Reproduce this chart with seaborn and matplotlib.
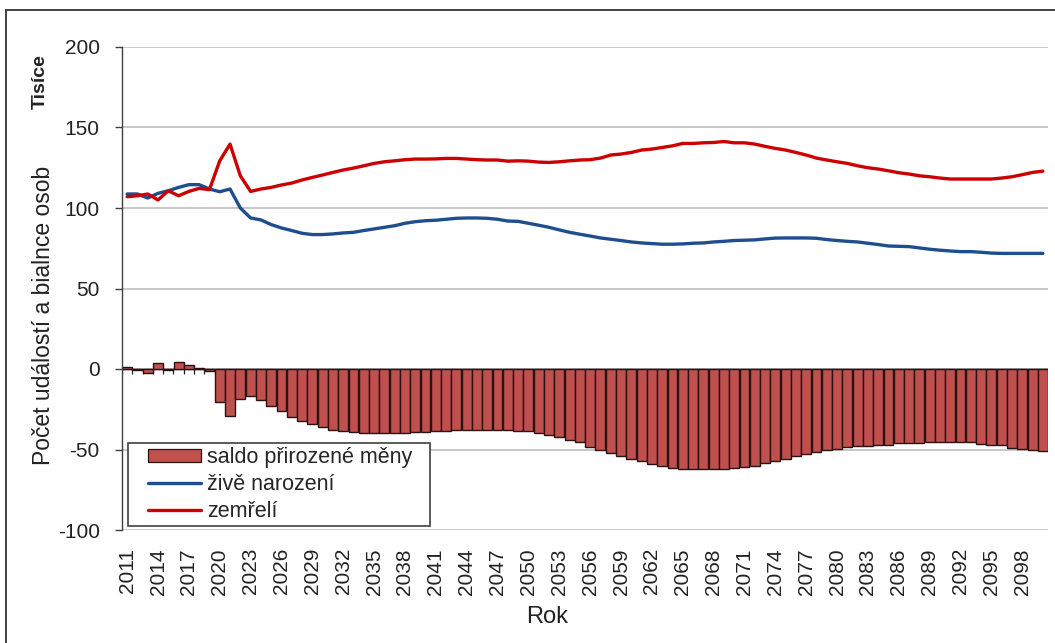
import numpy as np
import pandas as pd
import matplotlib
matplotlib.use("Agg")
import matplotlib.pyplot as plt
import seaborn as sns
from matplotlib.patches import Patch, Rectangle
from matplotlib.lines import Line2D

# ---- data (thousands) ----
years = list(range(2011, 2101))

saldo = [1.5, -0.5, -2.3, 3.9, -0.6, 4.6, 2.3, 0.4, -1.0, -20.3,
         -29.0, -18.9, -16.6, -19.3, -22.8, -26.3, -29.7, -32.6, -34.2, -35.9,
         -37.6, -38.6, -39.4, -39.8, -39.8, -39.8, -39.8, -39.8, -39.4, -39.4,
         -38.6, -38.2, -38.0, -37.6, -37.6, -37.6, -37.6, -37.6, -38.4, -38.4,
         -39.6, -40.7, -42.5, -43.8, -45.4, -48.3, -50.4, -51.9, -54.1, -55.8,
         -57.3, -59.3, -60.2, -61.8, -62.2, -62.2, -62.2, -62.2, -62.2, -61.4,
         -60.6, -60.0, -58.3, -57.3, -55.6, -54.1, -52.7, -51.5, -50.2, -49.4,
         -48.5, -47.7, -47.7, -47.1, -47.1, -46.1, -46.1, -46.1, -45.4, -45.4,
         -45.4, -45.4, -45.4, -46.5, -47.1, -47.1, -48.8, -49.6, -50.4, -51.0]

births = [108.7, 108.7, 106.2, 109.1, 110.7, 112.8, 114.5, 114.5, 111.8, 110.1,
          111.8, 100.0, 93.8, 92.6, 89.7, 87.6, 86.0, 84.3, 83.5, 83.5,
          83.9, 84.5, 84.9, 86.0, 87.0, 88.0, 89.0, 90.5, 91.5, 92.1,
          92.4, 93.0, 93.6, 93.8, 93.8, 93.6, 93.0, 91.9, 91.7, 90.5,
          89.3, 88.0, 86.4, 84.9, 83.7, 82.6, 81.4, 80.6, 79.8, 78.9,
          78.3, 77.9, 77.5, 77.5, 77.7, 78.1, 78.3, 78.9, 79.3, 79.8,
          80.0, 80.2, 80.8, 81.3, 81.4, 81.4, 81.4, 81.2, 80.4, 79.8,
          79.3, 78.9, 78.1, 77.3, 76.4, 76.2, 76.0, 75.2, 74.4, 73.8,
          73.3, 72.9, 72.9, 72.5, 72.0, 71.8, 71.8, 71.8, 71.8, 71.8]

deaths = [107.0, 107.6, 108.7, 105.0, 110.7, 107.6, 110.3, 112.2, 111.4, 129.3,
          139.7, 120.0, 110.3, 111.8, 112.8, 114.3, 115.5, 117.4, 119.0, 120.5,
          122.1, 123.6, 124.8, 126.2, 127.7, 128.7, 129.3, 130.0, 130.4, 130.4,
          130.5, 130.8, 130.8, 130.4, 130.0, 129.8, 129.8, 129.1, 129.3, 129.1,
          128.5, 128.3, 128.7, 129.3, 129.8, 130.0, 131.0, 132.9, 133.5, 134.5,
          136.0, 136.6, 137.6, 138.6, 140.1, 140.1, 140.5, 140.7, 141.3, 140.5,
          140.5, 139.7, 138.3, 137.0, 136.0, 134.5, 132.9, 131.0, 129.8, 128.7,
          127.7, 126.2, 125.0, 124.2, 123.1, 121.9, 121.1, 120.0, 119.4, 118.6,
          118.0, 118.0, 118.0, 118.0, 118.0, 118.6, 119.4, 120.7, 122.1, 122.9]

tick_years = list(range(2011, 2099, 3))
y_ticks = [-100, -50, 0, 50, 100, 150, 200]

label_saldo = "saldo přirozené měny"
label_births = "živě narození"
label_deaths = "zemřelí"

# ---- style ----
sns.set_style("white")
plt.rcParams["font.family"] = ["Liberation Sans", "DejaVu Sans"]

BAR_C = "#C0504D"
BAR_EDGE = "#2a1212"
BLUE = "#1F4E8E"
RED = "#CC0000"
GRID = "#BFBFBF"

df = pd.DataFrame({"year": [str(y) for y in years], "saldo": saldo,
                   "births": births, "deaths": deaths})
df["pos"] = np.arange(len(df))

fig = plt.figure(figsize=(10.55, 6.43), dpi=100)
ax = fig.add_axes([122 / 1055, 1 - 530 / 643, (1048 - 122) / 1055, (530 - 47) / 643])

# gridlines
for yv in y_ticks:
    ax.axhline(yv, color=GRID, lw=1.2, zorder=0)

# small category ticks hanging below the zero axis
ax.vlines(df["pos"].to_numpy() + 0.5, -2.8, 0, color="#222222", lw=0.9, zorder=1)
ax.vlines([-0.5], -2.8, 0, color="#222222", lw=0.9, zorder=1)
ax.axhline(0, color="#222222", lw=1.0, zorder=1)

sns.barplot(data=df, x="year", y="saldo", order=df["year"].tolist(), color=BAR_C,
            saturation=1, width=0.96, edgecolor=BAR_EDGE, linewidth=1.0,
            ax=ax, zorder=2)

sns.lineplot(data=df, x="pos", y="births", color=BLUE, lw=2.4, ax=ax,
             legend=False, zorder=3)
sns.lineplot(data=df, x="pos", y="deaths", color=RED, lw=2.4, ax=ax,
             legend=False, zorder=3)

ax.set_xlim(-0.5, len(years) - 0.5)
ax.set_ylim(-100, 200)

ax.set_yticks(y_ticks)
ax.set_yticklabels([str(v) for v in y_ticks], fontsize=15, color="#222222")
ax.tick_params(axis="y", length=5, width=1, color="#404040", pad=11, left=True)

pos_ticks = [years.index(y) for y in tick_years]
ax.set_xticks(pos_ticks)
ax.set_xticklabels([str(y) for y in tick_years], rotation=90, fontsize=15,
                   color="#222222")
ax.tick_params(axis="x", length=0, pad=13)

for s in ["top", "right", "bottom"]:
    ax.spines[s].set_visible(False)
ax.spines["left"].set_color("#404040")
ax.spines["left"].set_linewidth(1.0)

ax.set_xlabel("Rok", fontsize=17, color="#222222")
ax.xaxis.set_label_coords(0.459, -0.158)
ax.set_ylabel("Počet událostí a bialnce osob", fontsize=16.5, color="#222222")
ax.yaxis.set_label_coords(-0.072, 0.445)

fig.text(40 / 1055, 1 - 82 / 643, "Tisíce", rotation=90, fontsize=14,
         fontweight="bold", ha="center", va="center", color="#222222")

# legend box (frame drawn separately to get the wide padding of the original)
box_x0, box_y0 = 6 / 926, 4 / 483
box_w, box_h = 302 / 926, 83 / 483
ax.add_patch(Rectangle((box_x0, box_y0), box_w, box_h, transform=ax.transAxes,
                       facecolor="white", edgecolor="#404040", lw=1.2,
                       zorder=4.9, clip_on=False))
handles = [Patch(facecolor=BAR_C, edgecolor=BAR_EDGE, linewidth=0.9),
           Line2D([], [], color=BLUE, lw=2.4),
           Line2D([], [], color=RED, lw=2.4)]
leg = ax.legend(handles, [label_saldo, label_births, label_deaths],
                loc="center left",
                bbox_to_anchor=(box_x0 + 20 / 926, box_y0 + box_h / 2),
                borderaxespad=0, fontsize=15.5, frameon=False,
                handlelength=2.45, handleheight=0.55, labelspacing=0.26,
                borderpad=0, handletextpad=0.3)
leg.set_zorder(5)

# outer frame of the chart area
fig.patches.append(Rectangle((6 / 1055, -0.05), 1.2, 1 - 9.5 / 643 + 0.05,
                             transform=fig.transFigure, fill=False,
                             edgecolor="#333333", lw=1.3))

fig.savefig("out.png", dpi=100, facecolor="white")
